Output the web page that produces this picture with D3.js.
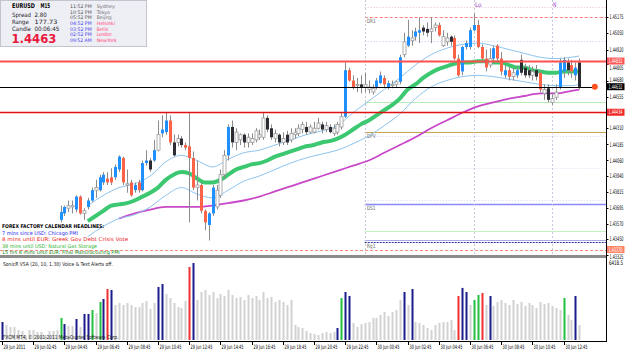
<!DOCTYPE html>
<html>
<head>
<meta charset="utf-8">
<script src="https://cdn.jsdelivr.net/npm/d3@7"></script>
<style>
    html, body { margin: 0; padding: 0; background: #fff; }
    svg { display: block; font-family: "DejaVu Sans", Verdana, sans-serif; }
</style>
</head>
<body>
<svg id="chart" width="625" height="352"></svg>
<script>
// ---------- chart values (EURUSD M15, 29-30 Jun 2011) ----------

// bottom time labels, one every 8 bars starting at bar 0
const timeLabels = ["29 Jun 2011", "29 Jun 02:45", "29 Jun 04:45", "29 Jun 06:45", "29 Jun 08:45",
    "29 Jun 10:45", "29 Jun 12:45", "29 Jun 14:45", "29 Jun 16:45", "29 Jun 18:45", "29 Jun 20:45",
    "29 Jun 22:45", "30 Jun 00:45", "30 Jun 02:45", "30 Jun 04:45", "30 Jun 06:45", "30 Jun 08:45",
    "30 Jun 10:45", "30 Jun 12:45"];

// first bar that has a visible candle
const firstCandleBar = 15;

const openP = [1.4360,1.4365,1.4369,1.4370,1.4368,1.4378,1.4365,1.4370,1.4375,1.4383,
    1.4383,1.4389,1.4392,1.4393,1.4393,1.4399,1.4408,1.4387,1.4389,1.4383,
    1.4389,1.4383,1.4404,1.4406,1.4406,1.4414,1.4427,1.4428,1.4437,1.4420,
    1.4420,1.4423,1.4418,1.4417,1.4408,1.4385,1.4387,1.4367,1.4356,1.4365,
    1.4370,1.4379,1.4395,1.4410,1.4432,1.4420,1.4422,1.4426,1.4420,1.4420,
    1.4422,1.4424,1.4424,1.4439,1.4431,1.4423,1.4426,1.4420,1.4426,1.4422,
    1.4426,1.4427,1.4430,1.4432,1.4428,1.4428,1.4431,1.4434,1.4430,1.4432,
    1.4427,1.4428,1.4432,1.4440,1.4476,1.4468,1.4464,1.4465,1.4463,1.4461,
    1.4459,1.4463,1.4466,1.4470,1.4463,1.4464,1.4465,1.4467,1.4488,1.4495,
    1.4499,1.4502,1.4505,1.4509,1.4508,1.4506,1.4509,1.4511,1.4495,1.4498,
    1.4502,1.4501,1.4485,1.4475,1.4494,1.4494,1.4507,1.4511,1.4494,1.4485,
    1.4480,1.4485,1.4495,1.4485,1.4472,1.4476,1.4471,1.4472,1.4484,1.4478,
    1.4476,1.4472,1.4476,1.4474,1.4458,1.4462,1.4451,1.4455,1.4463,1.4475,
    1.4482,1.4480,1.4472,1.4482];
const highP = [1.4371,1.4371,1.4375,1.4375,1.4379,1.4379,1.4369,1.4377,1.4385,1.4391,
    1.4395,1.4397,1.4397,1.4400,1.4403,1.4410,1.4409,1.4399,1.4391,1.4389,
    1.4391,1.4406,1.4414,1.4408,1.4422,1.4437,1.4441,1.4443,1.4441,1.4426,
    1.4426,1.4425,1.4420,1.4443,1.4413,1.4406,1.4389,1.4368,1.4366,1.4387,
    1.4387,1.4399,1.4414,1.4434,1.4437,1.4431,1.4427,1.4427,1.4427,1.4427,
    1.4431,1.4430,1.4443,1.4441,1.4434,1.4430,1.4427,1.4428,1.4429,1.4431,
    1.4431,1.4434,1.4436,1.4436,1.4434,1.4436,1.4439,1.4436,1.4436,1.4434,
    1.4434,1.4436,1.4443,1.4482,1.4478,1.4472,1.4470,1.4472,1.4474,1.4468,
    1.4465,1.4470,1.4475,1.4472,1.4468,1.4468,1.4468,1.4488,1.4505,1.4515,
    1.4507,1.4509,1.4517,1.4511,1.4513,1.4517,1.4513,1.4513,1.4507,1.4505,
    1.4503,1.4503,1.4488,1.4495,1.4499,1.4509,1.4520,1.4515,1.4496,1.4492,
    1.4493,1.4495,1.4496,1.4490,1.4480,1.4479,1.4478,1.4479,1.4488,1.4481,
    1.4480,1.4479,1.4480,1.4476,1.4465,1.4465,1.4458,1.4465,1.4485,1.4486,
    1.4485,1.4484,1.4482,1.4485];
const lowP = [1.4358,1.4363,1.4366,1.4365,1.4366,1.4364,1.4360,1.4368,1.4374,1.4377,
    1.4382,1.4387,1.4387,1.4387,1.4391,1.4397,1.4387,1.4381,1.4378,1.4381,
    1.4381,1.4382,1.4402,1.4397,1.4405,1.4413,1.4424,1.4426,1.4418,1.4409,
    1.4417,1.4416,1.4414,1.4358,1.4383,1.4375,1.4365,1.4352,1.4344,1.4363,
    1.4368,1.4377,1.4392,1.4406,1.4416,1.4414,1.4418,1.4416,1.4416,1.4418,
    1.4420,1.4422,1.4422,1.4428,1.4422,1.4420,1.4417,1.4418,1.4418,1.4420,
    1.4423,1.4425,1.4427,1.4426,1.4427,1.4427,1.4430,1.4427,1.4428,1.4427,
    1.4425,1.4426,1.4430,1.4439,1.4467,1.4461,1.4459,1.4458,1.4459,1.4458,
    1.4457,1.4461,1.4465,1.4463,1.4461,1.4462,1.4463,1.4465,1.4486,1.4494,
    1.4495,1.4499,1.4497,1.4503,1.4502,1.4497,1.4506,1.4502,1.4494,1.4495,
    1.4495,1.4484,1.4471,1.4472,1.4492,1.4492,1.4506,1.4493,1.4482,1.4475,
    1.4478,1.4482,1.4482,1.4472,1.4470,1.4468,1.4468,1.4470,1.4472,1.4470,
    1.4470,1.4468,1.4468,1.4459,1.4453,1.4451,1.4449,1.4453,1.4461,1.4470,
    1.4472,1.4470,1.4468,1.4461];
const closeP = [1.4366,1.4370,1.4371,1.4371,1.4378,1.4365,1.4367,1.4375,1.4383,1.4385,
    1.4393,1.4395,1.4389,1.4389,1.4401,1.4409,1.4389,1.4388,1.4379,1.4387,
    1.4383,1.4404,1.4406,1.4399,1.4414,1.4426,1.4430,1.4437,1.4420,1.4410,
    1.4423,1.4418,1.4416,1.4408,1.4385,1.4387,1.4367,1.4358,1.4365,1.4385,
    1.4383,1.4395,1.4410,1.4432,1.4420,1.4428,1.4426,1.4420,1.4424,1.4423,
    1.4429,1.4426,1.4439,1.4430,1.4424,1.4427,1.4420,1.4423,1.4420,1.4427,
    1.4428,1.4431,1.4434,1.4428,1.4432,1.4431,1.4435,1.4430,1.4433,1.4428,
    1.4431,1.4434,1.4440,1.4476,1.4468,1.4463,1.4465,1.4463,1.4465,1.4463,
    1.4462,1.4468,1.4472,1.4465,1.4466,1.4465,1.4467,1.4486,1.4498,1.4502,
    1.4501,1.4506,1.4507,1.4506,1.4505,1.4508,1.4511,1.4503,1.4502,1.4501,
    1.4498,1.4485,1.4472,1.4494,1.4497,1.4507,1.4511,1.4494,1.4485,1.4478,
    1.4485,1.4493,1.4485,1.4475,1.4476,1.4471,1.4474,1.4476,1.4474,1.4472,
    1.4472,1.4475,1.4471,1.4461,1.4461,1.4453,1.4454,1.4459,1.4482,1.4484,
    1.4476,1.4475,1.4478,1.4463];
// candle class: U strong up, D strong down, u weak, d weak dark
const candleTone = ("UUuuUDuUUu" + "UUDDUUDuDU" + "DUUdUuUUDd" + "udDDDuDDUU" + "uuuUduuduu" +
    "uuuddududu" + "uuuduuudud" + "uuuUDDuduu" + "uUUDUuuUuU" + "uUUdduuDuu" +
    "dDDUUUUDDD" + "uUDDUDuUdd" + "dudDuduuUU" + "dDUd").split("");

// volume per bar (bar 0 .. 148) and its VSA class: n normal, b climax, r red, g green
const volumeBars = [1500,1250,1080,1080,830,750,420,830,830,670,
    670,420,750,750,830,1840,1330,1170,1170,1750,
    1080,2170,2170,2500,2250,3170,3420,4250,4170,2920,
    3090,2920,3090,2920,2750,2750,3090,3250,2590,3090,
    4420,4670,3840,3500,3090,2750,2670,3250,6090,6418,
    3340,4000,4170,3750,4000,3500,3840,3670,4170,3750,
    3500,3590,3340,3750,3500,3670,3340,4000,3500,3590,
    3170,3340,3170,2920,3340,1250,1080,1000,750,580,
    500,420,580,670,580,670,1000,3500,4000,3670,
    1420,1080,1330,1420,1500,1840,1840,2090,2340,2000,
    2340,2500,3340,4000,2920,4250,1500,1420,1250,1000,
    830,1250,1420,1500,1500,1670,830,3670,4340,4000,
    2920,3340,3750,3920,2920,3670,2840,3170,3340,3090,
    2920,3340,3000,3170,2840,3090,2920,2670,3170,3000,
    3090,2840,2670,2500,3500,2090,1670,3670,1250];
const volumeTone = ("bnnnnnnnnn" + "nnnnngbnnb" + "nbbgngbrbn" + "nnnnnnnnnn" + "bbnnnnnnrb" +
    "nnnnnnnnnn" + "nnnnnnnnnn" + "nnnnnnnnnn" + "nnnnnnbgbb" + "nnnnnnnnnn" +
    "nnnbnbnnnn" + "nnnnnnnrbb" + "nggrnbnnnn" + "nnnnnnnnnn" + "nnnngnnbn").split("");
const volumeMax = 6418.5;

// SonicR dragon: middle EMA every 2 bars from bar 22, band edges every 4 bars from bar 22
const dragonMid = [1.4359,1.4363,1.4367,1.4371,1.4372,1.4373,1.4375,1.4378,1.4381,1.4385,
    1.4391,1.4395,1.4397,1.4396,1.4392,1.4389,1.4389,1.4391,1.4395,1.4399,
    1.4401,1.4403,1.4404,1.4406,1.4409,1.4411,1.4413,1.4415,1.4417,1.4418,
    1.4420,1.4421,1.4423,1.4426,1.4430,1.4434,1.4437,1.4441,1.4445,1.4449,
    1.4454,1.4461,1.4465,1.4470,1.4474,1.4477,1.4479,1.4481,1.4482,1.4482,
    1.4483,1.4483,1.4482,1.4482,1.4480,1.4478,1.4478,1.4476,1.4475,1.4474,
    1.4474,1.4475,1.4475,1.4475];
const dragonHigh = [1.4371,1.4379,1.4385,1.4388,1.4394,1.4405,1.4410,1.4406,1.4401,1.4407,
    1.4412,1.4414,1.4418,1.4422,1.4426,1.4429,1.4433,1.4443,1.4452,1.4461,
    1.4470,1.4480,1.4488,1.4493,1.4496,1.4497,1.4495,1.4492,1.4489,1.4486,
    1.4485,1.4486,1.4487];
const dragonLow = [1.4347,1.4355,1.4361,1.4364,1.4370,1.4379,1.4385,1.4380,1.4377,1.4383,
    1.4390,1.4394,1.4399,1.4404,1.4408,1.4411,1.4414,1.4419,1.4425,1.4433,
    1.4442,1.4454,1.4463,1.4468,1.4471,1.4472,1.4471,1.4469,1.4467,1.4465,
    1.4464,1.4464,1.4465];
// slow moving average, every 4 bars from bar 30
const slowMA = [1.4361,1.4365,1.4368,1.4370,1.4370,1.4370,1.4371,1.4373,1.4375,1.4378,
    1.4382,1.4386,1.4390,1.4394,1.4398,1.4402,1.4406,1.4412,1.4418,1.4424,
    1.4431,1.4437,1.4443,1.4448,1.4451,1.4454,1.4456,1.4458,1.4458,1.4460,
    1.4461];

// price axis
const priceTicks = [1.45175, 1.45050, 1.44920, 1.44805, 1.44680, 1.44555, 1.44310, 1.44185,
    1.44060, 1.43940, 1.43815, 1.43695, 1.43570, 1.43450, 1.43325];

// full width horizontal lines and their price tags
const hLineNames = ["resistance", "bid", "support", "stop"];
const hLineValues = [1.44831, 1.44632, 1.44434, 1.43370];

// daily pivot levels drawn from the day start
const pivotNames = ["H1", "DR1", "R1m", "G1", "DPV", "DPVd", "M1", "DS1d", "DS1", "G2", "Rg1d", "Rg1"];
const pivotValues = [1.4525, 1.4517, 1.4499, 1.4451, 1.4428, 1.4425, 1.4400, 1.4375, 1.4372, 1.4351, 1.4344, 1.4343];

// session markers (bar index)
const sessionBars = [93, 121, 141];
const sessionNames = ["", "Lo", "N"];

// info panel
const clockTimes = ["11:52 PM", "10:52 PM", "05:52 PM", "04:52 PM", "03:52 PM", "02:52 PM", "09:52 AM"];
const clockCities = ["Sydney", "Tokyo", "Beijing", "Helsinki", "Berlin", "London", "NewYork"];
const cityOpen = [false, false, false, true, true, true, true];

const headlines = ["7 mins since USD: Chicago PMI", "8 mins until EUR: Greek Gov Debt Crisis Vote",
    "38 mins until USD: Natural Gas Storage", "15 hrs 8 mins until EUR: Final Manufacturing PMI"];

// ---------- drawing ----------
const svg = d3.select("#chart");
const axisX = 606;
const mainBottom = 255;

const x = d3.scaleLinear().domain([0, 148]).range([2, 579.2]);
const y = d3.scaleLinear().domain([1.4345, 1.4518]).range([239.2, 16]);
const yVol = d3.scaleLinear().domain([0, volumeMax]).range([340, 263]);

// squeeze a text horizontally to a measured width (MT4 uses a very narrow font)
function fit(sel, w)
{
    const natural = sel.node().getComputedTextLength();
    const k = w / natural;
    const x0 = +sel.attr("x");
    return sel.attr("transform", `translate(${x0 * (1 - k)},0) scale(${k},1)`);
}

svg.append("rect").attr("width", 625).attr("height", 352).attr("fill", "#fff");

svg.append("defs").append("clipPath").attr("id", "mainClip")
    .append("rect").attr("x", 0).attr("y", 0).attr("width", axisX).attr("height", mainBottom);

const main = svg.append("g").attr("clip-path", "url(#mainClip)");

// Pivot levels
const pivotStyle = {
    H1:   {c: "#e8bcd4", w: 1, d: "1,2"},
    DR1:  {c: "#ff7a7a", w: 1, d: "3,2"},
    R1m:  {c: "#c4c4ec", w: 1, d: "1,2"},
    G1:   {c: "#b4eeb4", w: 1, d: null},
    DPV:  {c: "#c8a848", w: 1.2, d: null},
    DPVd: {c: "#d4d4f0", w: 1, d: "1,2"},
    M1:   {c: "#dcdcf4", w: 1, d: "1,2"},
    DS1d: {c: "#d0d0f0", w: 1, d: "1,2"},
    DS1:  {c: "#8a8aff", w: 1.5, d: null},
    G2:   {c: "#c4f0c4", w: 1, d: null},
    Rg1d: {c: "#a8a8e4", w: 1, d: null},
    Rg1:  {c: "#3030a0", w: 1.2, d: "2,1"}
};
main.selectAll(".pivot")
    .data(pivotNames.map((n, i) => ({n, v: pivotValues[i]})))
    .enter()
    .append("line")
    .attr("class", "pivot")
    .attr("x1", x(sessionBars[0])).attr("x2", axisX)
    .attr("y1", d => Math.round(y(d.v)) + 0.5).attr("y2", d => Math.round(y(d.v)) + 0.5)
    .attr("stroke", d => pivotStyle[d.n].c)
    .attr("stroke-width", d => pivotStyle[d.n].w)
    .attr("stroke-dasharray", d => pivotStyle[d.n].d);

// Pivot captions
["DR1", "DPV", "DS1", "Rg1"].forEach(n =>
{
    fit(main.append("text")
        .attr("x", x(sessionBars[0]) + 2)
        .attr("y", y(pivotValues[pivotNames.indexOf(n)]) + 6)
        .attr("font-size", "6px")
        .attr("fill", "#707070")
        .text(n), 9);
});

// Session separators
sessionBars.forEach((b, i) =>
{
    main.append("line")
        .attr("x1", Math.round(x(b)) + 0.5).attr("x2", Math.round(x(b)) + 0.5)
        .attr("y1", 0).attr("y2", mainBottom)
        .attr("stroke", "#c8c8dc").attr("stroke-dasharray", "2,2");
    if (sessionNames[i])
    {
        fit(main.append("text")
            .attr("x", x(b) + 1).attr("y", 7.5)
            .attr("font-size", "6.5px")
            .attr("fill", "#9848c8")
            .text(sessionNames[i]), sessionNames[i].length * 3.4);
    }
});

// Moving average lines
const curve = d3.line().x(d => x(d.b)).y(d => y(d.v)).curve(d3.curveMonotoneX);
const midBars = d3.range(22, 149, 2);
const bandBars = d3.range(22, 147, 4).concat([148]);
const slowBars = d3.range(30, 147, 4).concat([148]);

main.append("path")
    .datum(slowMA.map((v, i) => ({b: slowBars[i], v})))
    .attr("d", curve).attr("fill", "none")
    .attr("stroke", "#c848c8").attr("stroke-width", 1.8);

[dragonHigh, dragonLow].forEach(arr =>
{
    main.append("path")
        .datum(arr.map((v, i) => ({b: bandBars[i], v})))
        .attr("d", curve).attr("fill", "none")
        .attr("stroke", "#8cc4f0").attr("stroke-width", 1);
});

main.append("path")
    .datum(dragonMid.map((v, i) => ({b: midBars[i], v})))
    .attr("d", curve).attr("fill", "none")
    .attr("stroke", "#3cc870").attr("stroke-width", 4);

// Candles
const candles = openP.map((o, i) => ({
    bar: firstCandleBar + i, o, h: highP[i], l: lowP[i], c: closeP[i], tone: candleTone[i]
}));
const toneFill = {U: "#1e90ff", D: "#ff6347", u: "#ffffff", d: "#2c2c34"};
const toneEdge = {U: "#1e90ff", D: "#ff6347", u: "#9a9a9a", d: "#2c2c34"};

const cg = main.selectAll(".candle")
    .data(candles)
    .enter()
    .append("g")
    .attr("class", "candle");

cg.append("line")
    .attr("x1", d => Math.round(x(d.bar)) + 0.5).attr("x2", d => Math.round(x(d.bar)) + 0.5)
    .attr("y1", d => y(d.h)).attr("y2", d => y(d.l))
    .attr("stroke", "#8c8c8c").attr("stroke-width", 1);

cg.append("rect")
    .attr("x", d => Math.round(x(d.bar)) - 1)
    .attr("width", 3)
    .attr("y", d => y(Math.max(d.o, d.c)))
    .attr("height", d => Math.max(1, Math.abs(y(d.o) - y(d.c))))
    .attr("fill", d => toneFill[d.tone])
    .attr("stroke", d => d.tone === "u" ? toneEdge.u : "none")
    .attr("stroke-width", 0.8);

// Full width horizontal lines
const hStyle = {
    resistance: {c: "#ff5050", w: 2},
    bid:        {c: "#000000", w: 1},
    support:    {c: "#e01010", w: 1.5},
    stop:       {c: "#ff8c7c", w: 1, d: "3,2"}
};
hLineNames.forEach((n, i) =>
{
    main.append("line")
        .attr("x1", 0)
        .attr("x2", n === "bid" ? x(152) : axisX)
        .attr("y1", Math.round(y(hLineValues[i])) + 0.5)
        .attr("y2", Math.round(y(hLineValues[i])) + 0.5)
        .attr("stroke", hStyle[n].c)
        .attr("stroke-width", hStyle[n].w)
        .attr("stroke-dasharray", hStyle[n].d || null);
});

// Current price marker
main.append("circle")
    .attr("cx", x(152)).attr("cy", y(hLineValues[1]))
    .attr("r", 3).attr("fill", "#ff5020");

// Headlines block
const head = svg.append("g").attr("font-size", "5.2px");
fit(head.append("text").attr("x", 2).attr("y", 228.5).attr("font-weight", "bold").attr("fill", "#000")
    .text("FOREX FACTORY CALENDAR HEADLINES:"), 102);
const headColors = ["#2828f0", "#f02020", "#30b030", "#208a20"];
const headWidths = [76, 126, 95, 118];
headlines.forEach((t, i) =>
{
    fit(head.append("text")
        .attr("x", 2).attr("y", 235 + i * 6.3)
        .attr("fill", headColors[i])
        .text(t), headWidths[i]);
});

// Info box
const info = svg.append("g");
info.append("rect")
    .attr("x", 0.5).attr("y", 0.5).attr("width", 146).attr("height", 46)
    .attr("fill", "#eeeef5").attr("stroke", "#c4c4cc");

fit(info.append("text").attr("x", 12).attr("y", 8.5).attr("font-size", "6.5px").attr("font-weight", "bold")
    .text("EURUSD"), 23);
fit(info.append("text").attr("x", 40.5).attr("y", 8.5).attr("font-size", "6.5px").attr("font-weight", "bold")
    .text("M15"), 9.5);

const infoRows = [["Spread", "2.80", 19, 12.3], ["Range", "177.73", 16.7, 23], ["Candle", "00:06:45", 19, 24.7]];
infoRows.forEach((r, i) =>
{
    fit(info.append("text").attr("x", 12).attr("y", 17 + i * 7).attr("font-size", "6px").attr("fill", "#202020")
        .text(r[0]), r[2]);
    fit(info.append("text").attr("x", 34.5).attr("y", 17 + i * 7).attr("font-size", "6px").attr("fill", "#202020")
        .text(r[1]), r[3]);
});

fit(info.append("text")
    .attr("x", 11.5).attr("y", 42.8)
    .attr("font-size", "13px").attr("font-weight", "bold")
    .attr("fill", "#e8183c")
    .text(d3.format(".4f")(hLineValues[1])), 45);

const cityWidths = [18.3, 13.3, 15, 18.3, 11.7, 15, 20];
clockTimes.forEach((t, i) =>
{
    const yy = 8 + i * 5.7;
    fit(info.append("text").attr("x", 70).attr("y", yy).attr("font-size", "4.8px")
        .attr("fill", cityOpen[i] ? "#3c3ce8" : "#505050")
        .text(t), 21.7);
    fit(info.append("text").attr("x", 96.7).attr("y", yy).attr("font-size", "4.8px")
        .attr("fill", cityOpen[i] ? "#ff4070" : "#707070")
        .text(clockCities[i]), cityWidths[i]);
});

// Panel separator
svg.append("rect").attr("x", 0).attr("y", 255).attr("width", axisX).attr("height", 3).attr("fill", "#8c8c8c");

// Volume panel
const vol = svg.append("g");
vol.selectAll(".vbar")
    .data(volumeBars.map((v, i) => ({bar: i, v, tone: volumeTone[i]})))
    .enter()
    .append("rect")
    .attr("class", "vbar")
    .attr("x", d => Math.round(x(d.bar)) - 0.5)
    .attr("width", 2)
    .attr("y", d => yVol(d.v))
    .attr("height", d => yVol(0) - yVol(d.v))
    .attr("fill", d => ({n: "#d2d2d2", b: "#1c1c8c", r: "#f03030", g: "#22c040"})[d.tone]);

fit(vol.append("text").attr("x", 3).attr("y", 266).attr("font-size", "5.5px").attr("fill", "#202020")
    .text("SonicR VSA (20, 10, 1.38)   Voice & Text Alerts off."), 110);
fit(vol.append("text").attr("x", 3).attr("y", 339.5).attr("font-size", "5.5px").attr("fill", "#202020")
    .text("FXCM MT4, \u00a9 2001-2011 MetaQuotes Software Corp."), 116);

// Right price axis
svg.append("line").attr("x1", axisX + 0.5).attr("x2", axisX + 0.5).attr("y1", 0).attr("y2", 342)
    .attr("stroke", "#000");

const ra = svg.append("g").attr("font-size", "6.3px");
const tagYs = hLineValues.map(v => y(v));
priceTicks.forEach(p =>
{
    // keep the tick label clear of a price tag that sits on top of it
    let ly = y(p);
    tagYs.forEach(t =>
    {
        if (Math.abs(ly - t) < 7) ly = t + (ly >= t ? 7 : -7);
    });
    ra.append("line").attr("x1", axisX).attr("x2", axisX + 2.5)
        .attr("y1", Math.round(y(p)) + 0.5).attr("y2", Math.round(y(p)) + 0.5).attr("stroke", "#000");
    fit(ra.append("text").attr("x", axisX + 3.5).attr("y", ly + 2.2).attr("fill", "#000")
        .text(d3.format(".5f")(p)), 14);
});

const tagFill = {resistance: "#ff5a5a", bid: "#000000", support: "#f02828", stop: "#ff8466"};
hLineNames.forEach((n, i) =>
{
    const yy = y(hLineValues[i]);
    ra.append("rect").attr("x", axisX + 1).attr("y", yy - 3.5).attr("width", 17.5).attr("height", 7)
        .attr("fill", tagFill[n]);
    fit(ra.append("text").attr("x", axisX + 2.5).attr("y", yy + 2.2).attr("fill", "#fff")
        .text(d3.format(".5f")(hLineValues[i])), 14);
});

// volume scale label
fit(ra.append("text").attr("x", axisX + 3).attr("y", yVol(volumeMax) + 2).attr("fill", "#000")
    .text(d3.format(".1f")(volumeMax)), 14);

// Bottom time axis
svg.append("line").attr("x1", 0).attr("x2", axisX).attr("y1", 341.5).attr("y2", 341.5).attr("stroke", "#000");
const ba = svg.append("g").attr("font-size", "6px");
timeLabels.forEach((t, i) =>
{
    const xx = Math.round(x(i * 8)) + 0.5;
    ba.append("line").attr("x1", xx).attr("x2", xx).attr("y1", 341).attr("y2", 345).attr("stroke", "#000");
    fit(ba.append("text").attr("x", xx + 1).attr("y", 349.5).attr("fill", "#000").text(t), 22);
});
</script>
</body>
</html>
